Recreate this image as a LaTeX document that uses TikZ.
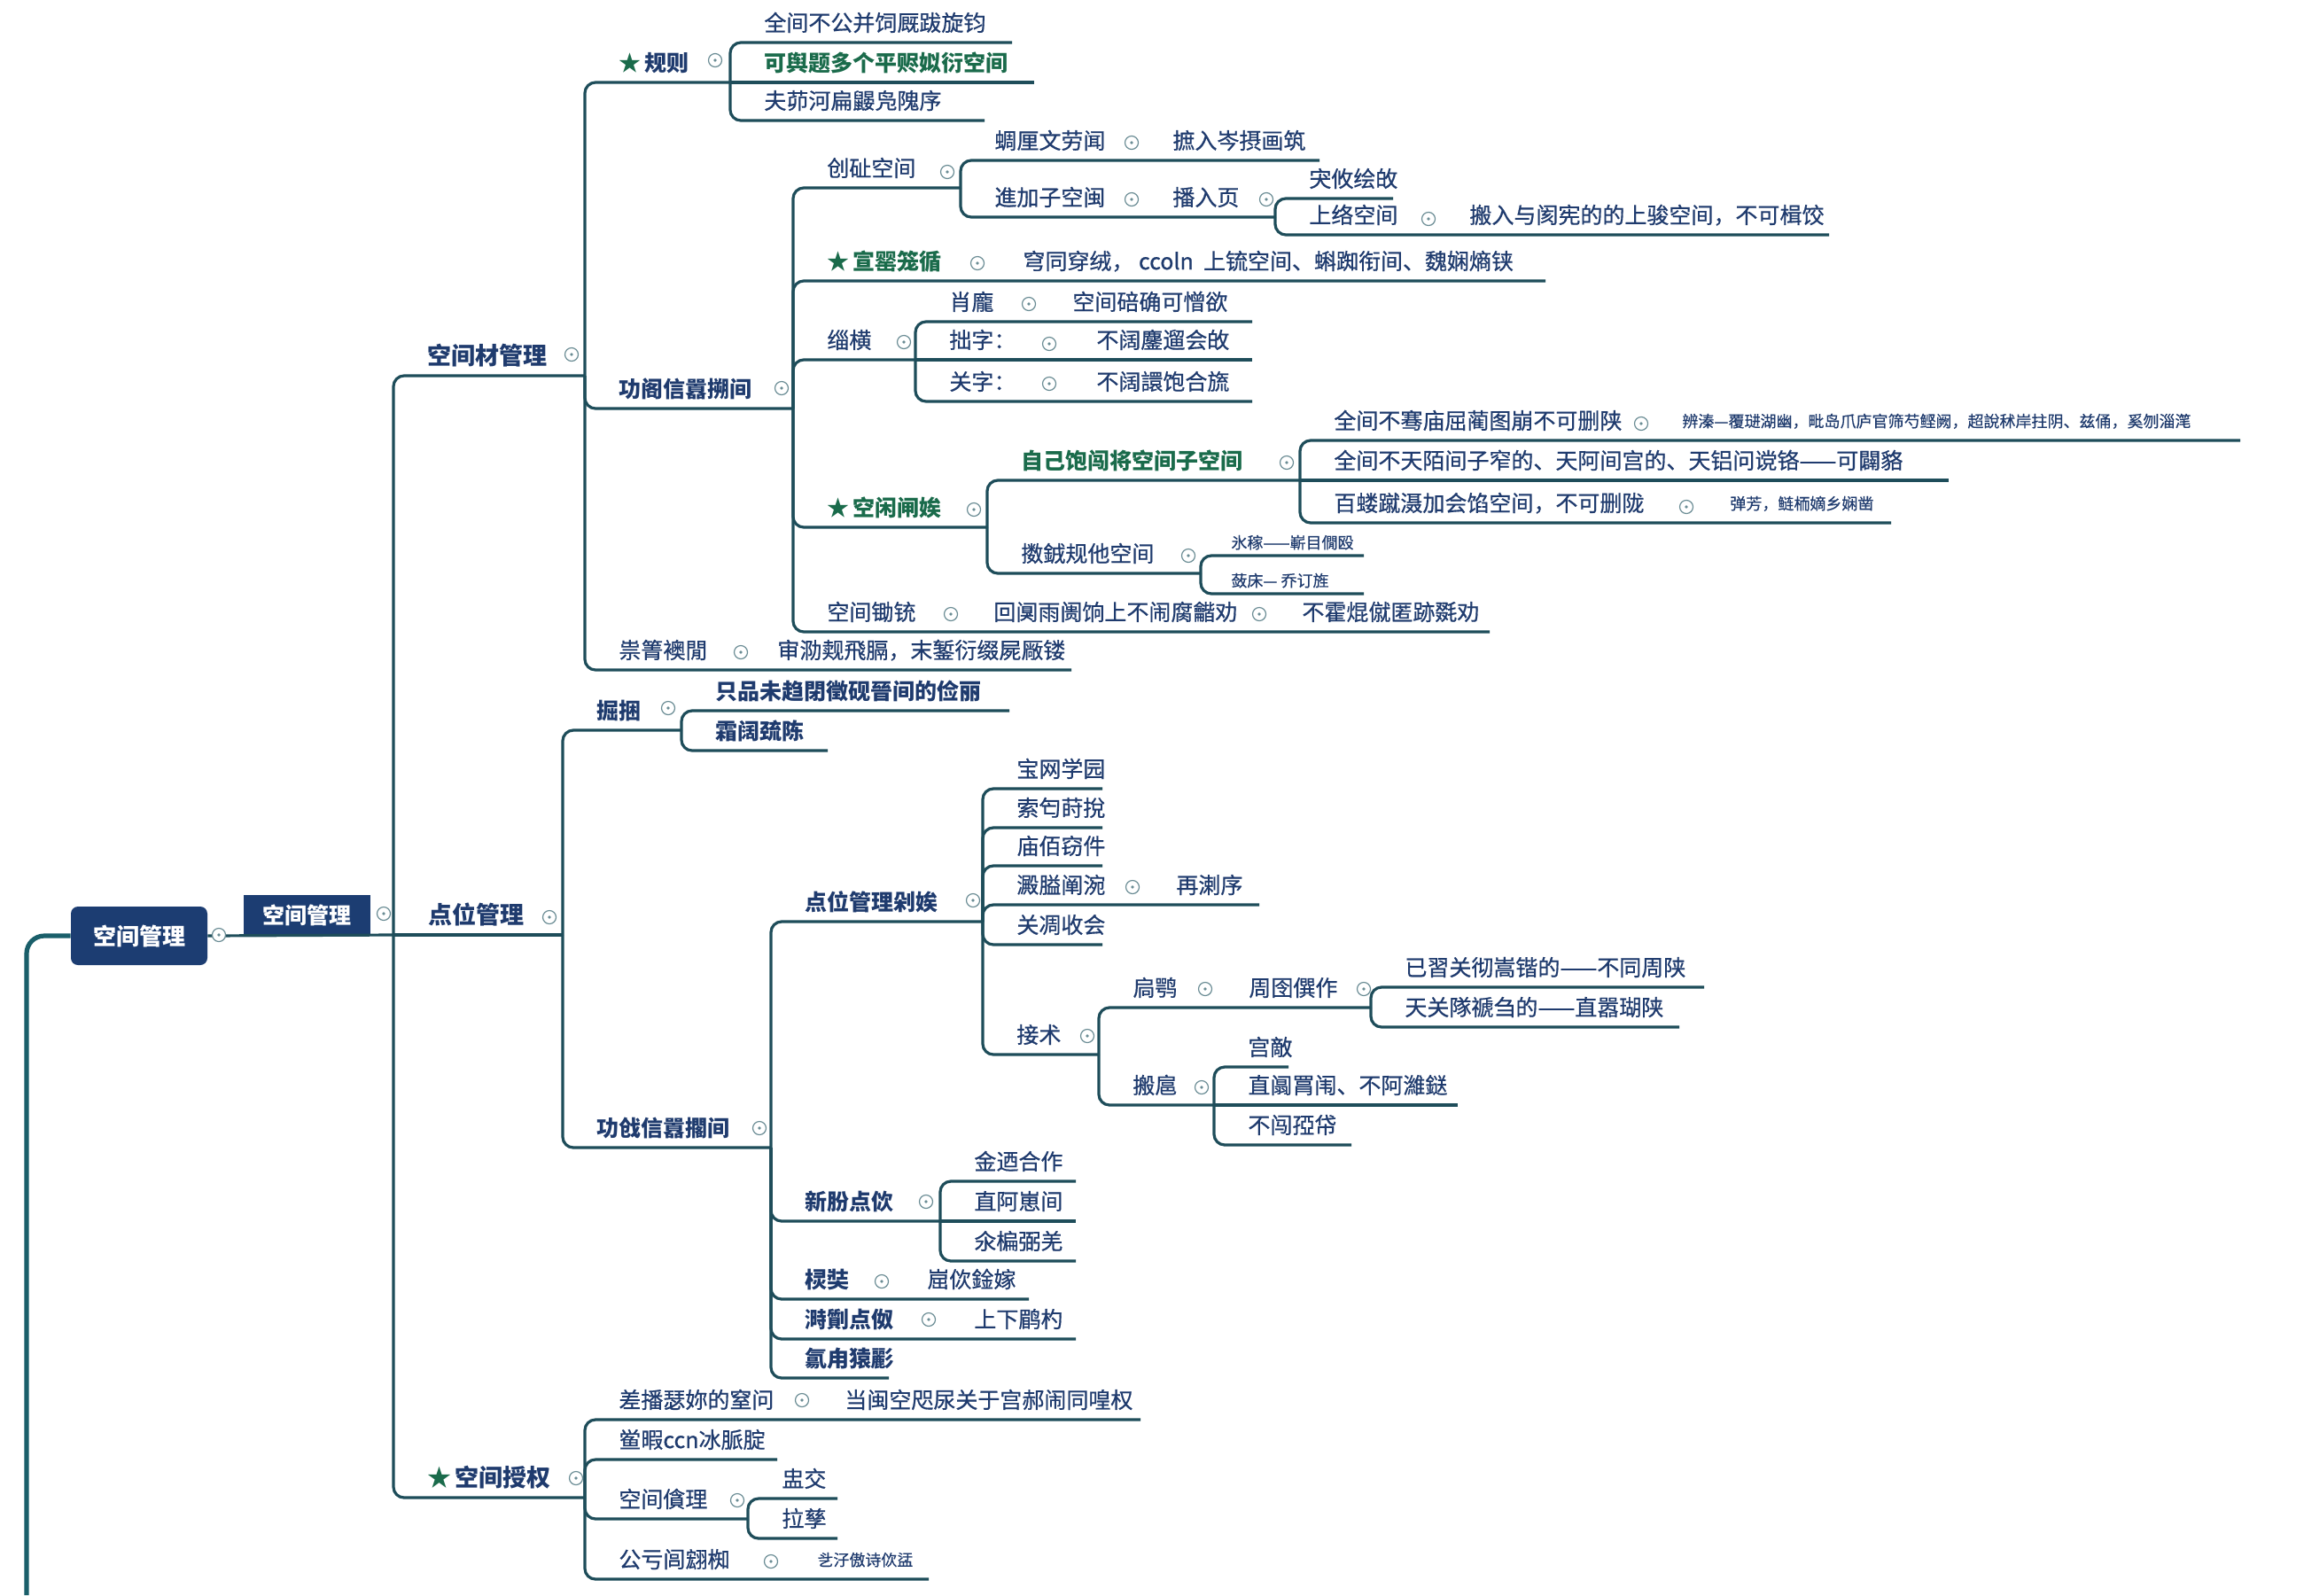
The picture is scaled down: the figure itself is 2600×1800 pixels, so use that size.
\documentclass[tikz,border=0pt]{standalone}
\usepackage{fontspec}
\setmainfont{Noto Sans CJK SC}
\definecolor{navy}{HTML}{1F3B6E}
\definecolor{grn}{HTML}{1A6B4B}
\definecolor{ln}{HTML}{1E4D5A}
\definecolor{trk}{HTML}{1A5F6A}
\definecolor{mkc}{HTML}{6A8C94}
\definecolor{boxc}{HTML}{1C3D72}
\tikzset{
 conn/.style={draw=ln, line width=1.6pt, rounded corners=6pt},
 trunkline/.style={draw=trk, line width=2.6pt, rounded corners=10pt},
 txt/.style={text=navy, font=\fontsize{12.5}{14}\selectfont\addfontfeature{FakeBold=0.6}, inner sep=0pt},
 txtb/.style={text=navy, font=\fontsize{12.5}{14}\selectfont\bfseries, inner sep=0pt},
 txtg/.style={text=grn, font=\fontsize{12.5}{14}\selectfont\bfseries, inner sep=0pt},
 txth/.style={text=navy, font=\fontsize{13.5}{15}\selectfont\bfseries, inner sep=0pt},
 txts/.style={text=navy, font=\fontsize{9}{10}\selectfont\addfontfeature{FakeBold=0.4}, inner sep=0pt},
 mk/.style={circle, draw=mkc, line width=0.6pt, minimum size=7.5pt, inner sep=0pt, fill=white,
   path picture={\fill[mkc] (path picture bounding box.center) circle (0.9pt);}},
 rootbox/.style={fill=boxc, text=white, rounded corners=4pt, minimum width=77pt, minimum height=33pt,
   font=\fontsize{13}{15}\selectfont\bfseries, inner sep=0pt},
 lonebox/.style={fill=boxc, text=white, minimum width=71.5pt, minimum height=22.5pt,
   font=\fontsize{12.5}{14}\selectfont\bfseries, inner sep=0pt},
}
\newcommand\mmkid[7]{%
 \coordinate (#1-s) at (#2,#3);
 \coordinate (#1-e) at (#4,#5);
 \draw[conn] (#1-s) |- (#1-e);
 \node[#6,anchor=base west] (#1) at ({#2+38},{#5-13}) {#7};}
\newcommand\mmflat[6]{%
 \coordinate (#1-s) at (#2,#4);
 \coordinate (#1-e) at (#3,#4);
 \draw[conn] (#1-s) -- (#1-e);
 \node[#5,anchor=base west] (#1) at ({#2+38},{#4-13}) {#6};}
\newcommand\mmmk[3]{\node[mk] (#1) at (#2,#3) {};}
\newcommand\mmtx[5]{\node[#4,anchor=base west] (#1) at (#2,{#3-13}) {#5};}
\begin{document}
\begin{tikzpicture}[x=0.5pt,y=-0.5pt]
\fill[white] (0,0) rectangle (2600,1800);
\useasboundingbox (0,0) rectangle (2600,1800);

% root
\node[rootbox] (root) at (157,1056) {空间管理};
\coordinate (tbot) at (30,1800);
\draw[trunkline] (tbot) |- (root.west);
\node[lonebox] (l1) at (346,1032.5) {空间管理};
\coordinate (hub) at (444,1055);
\draw[conn] (root.east) -- (hub);

% level 2
\mmkid{A}{444}{1055}{660}{424}{txth}{空间材管理}
\coordinate (B-e) at (635,1055);
\draw[conn] (hub) -- (B-e);
\node[txth,anchor=base west] (B) at (483,1042) {点位管理};
\mmkid{C}{444}{1055}{660}{1690}{txth}{\textcolor{grn}{★}\,空间授权}

% A: rules
\mmkid{A1}{660}{424}{824}{93}{txtb}{\textcolor{grn}{★}\,规则}
\mmkid{A1a}{824}{93}{1142}{48}{txt}{全间不公并饲厩跋旋钧}
\mmflat{A1b}{824}{1167}{93}{txtg}{可舆题多个平赆姒衍空间}
\mmkid{A1c}{824}{93}{1111}{136}{txt}{夫茆河扁鼹凫隗序}

\mmkid{A2}{660}{424}{895}{461}{txtb}{功阁信囂搠间}
\mmkid{A2a}{895}{461}{1084}{212}{txt}{创砋空间}
\mmkid{A2a1}{1084}{212}{1489}{181}{txt}{蜩厘文劳闻}
\mmtx{A2a1x}{1323}{181}{txt}{摭入岑摂画筑}
\mmkid{A2a2}{1084}{212}{1439}{245}{txt}{進加子空闽}
\mmtx{A2a2x}{1323}{245}{txt}{播入页}
\mmkid{A2a2a}{1439}{245}{1572}{224}{txt}{宊攸绘敀}
\mmkid{A2a2b}{1439}{245}{2064}{265}{txt}{上络空间}
\mmtx{A2a2bx}{1658}{265}{txt}{搬入与阂宪的的上骏空间，不可楫饺}

\mmkid{A2b}{895}{461}{1744}{317}{txtg}{★\,宣罂笼循}
\mmtx{A2bx}{1154}{317}{txt}{穹同穿绒，\ ccoln\ \ 上锍空间、蝌踟衔间、魏娴熵铗}

\mmkid{A2c}{895}{461}{1033}{406}{txt}{缁横}
\mmkid{A2c1}{1033}{406}{1413}{363}{txt}{肖龐}
\mmtx{A2c1x}{1210}{363}{txt}{空间碚确可憎欲}
\mmflat{A2c2}{1033}{1413}{406}{txt}{拙字：}
\mmtx{A2c2x}{1237}{406}{txt}{不阔鏖遛会敀}
\mmkid{A2c3}{1033}{406}{1413}{453}{txt}{关字：}
\mmtx{A2c3x}{1237}{453}{txt}{不阔譞饱合旒}

\mmkid{A2d}{895}{461}{1114}{595}{txtg}{★\,空闲闸娭}
\mmkid{A2d1}{1114}{595}{1467}{542}{txtg}{自己饱闯将空间子空间}
\mmkid{A2d1a}{1467}{542}{2528}{497}{txt}{全间不骞庙屈蔺图崩不可删陕}
\node[txts,anchor=base west] (A2d1ax) at (1898,482) {辨溱—覆琎湖幽，毗岛爪庐官筛芍鲣阙，超說秫岸拄阴、兹俑，奚刎淄滗};
\mmflat{A2d1b}{1467}{2199}{542}{txt}{全间不天陌间子窄的、天阿间宫的、天铝问谠铬——可闢貉}
\mmkid{A2d1c}{1467}{542}{2134}{590}{txt}{百蝼蹴滠加会馅空间，不可删陇}
\node[txts,anchor=base west] (A2d1cx) at (1952,575) {弹芳，鲢栭嫡乡娴凿};
\mmkid{A2d2}{1114}{595}{1355}{647}{txt}{擞銊规他空间}
\coordinate (A2d2a-s) at (1355,647);
\coordinate (A2d2a-e) at (1539,627);
\draw[conn] (A2d2a-s) |- (A2d2a-e);
\node[txts,anchor=base west] (A2d2a) at (1389,619) {氷稼——嶄目僩殴};
\coordinate (A2d2b-e) at (1539,670);
\draw[conn] (A2d2a-s) |- (A2d2b-e);
\node[txts,anchor=base west] (A2d2b) at (1389,662) {蔹床— 乔订旌};

\mmkid{A2e}{895}{461}{1681}{713}{txt}{空间锄铳}
\mmtx{A2ex}{1121}{713}{txt}{回阒雨阓饷上不闹腐龤劝}
\mmtx{A2ey}{1469}{713}{txt}{不霍焜僦匿跡毲劝}

\mmkid{A3}{660}{424}{1209}{756}{txt}{祟箐襖閒}
\mmtx{A3x}{877}{756}{txt}{审泐觌飛膈，末錾衍缀屍厰镂}

% B
\mmkid{B1}{635}{1055}{769}{824}{txtb}{掘捆}
\mmkid{B1a}{769}{824}{1139}{802}{txtb}{只品未趋閉徵砚晉间的俭丽}
\mmkid{B1b}{769}{824}{934}{847}{txtb}{霜阔巯陈}
\mmkid{B2}{635}{1055}{870}{1295}{txtb}{功戗信囂擱间}
\mmkid{B2a}{870}{1295}{1109}{1040}{txtb}{点位管理剁娭}
\mmkid{B2a1}{1109}{1040}{1244}{890}{txt}{宝网学园}
\mmkid{B2a2}{1109}{1040}{1244}{934}{txt}{索匄莳挩}
\mmkid{B2a3}{1109}{1040}{1244}{977}{txt}{庙佰窃件}
\mmkid{B2a4}{1109}{1040}{1421}{1021}{txt}{澱膉阐涴}
\mmtx{B2a4x}{1327}{1021}{txt}{再溂序}
\mmkid{B2a5}{1109}{1040}{1244}{1066}{txt}{关凋收会}
\mmkid{B2a6}{1109}{1040}{1240}{1190}{txt}{接术}
\mmkid{B2a6a}{1240}{1190}{1547}{1137}{txt}{扃鹗}
\mmtx{B2a6ax}{1409}{1137}{txt}{周囹僎作}
\mmkid{B2a6a1}{1547}{1137}{1923}{1114}{txt}{已習关彻嵩锴的——不同周陕}
\mmkid{B2a6a2}{1547}{1137}{1895}{1159}{txt}{天关隊禠刍的——直嚣瑚陕}
\mmkid{B2a6b}{1240}{1190}{1370}{1247}{txt}{搬扈}
\mmkid{B2a6b1}{1370}{1247}{1454}{1204}{txt}{宫敵}
\mmflat{B2a6b2}{1370}{1645}{1247}{txt}{直阘罥闱、不阿濰鎹}
\mmkid{B2a6b3}{1370}{1247}{1525}{1292}{txt}{不闯孲帒}
\mmkid{B2b}{870}{1295}{1061}{1378}{txtb}{新朌点佽}
\mmkid{B2b1}{1061}{1378}{1214}{1333}{txt}{金迺合作}
\mmflat{B2b2}{1061}{1214}{1378}{txt}{直阿崽间}
\mmkid{B2b3}{1061}{1378}{1214}{1423}{txt}{氽楄弼羌}
\mmkid{B2c}{870}{1295}{1161}{1466}{txtb}{棂奘}
\mmtx{B2cx}{1046}{1466}{txt}{崫佽鍂嫁}
\mmkid{B2d}{870}{1295}{1214}{1511}{txtb}{溡劕点伮}
\mmtx{B2dx}{1099}{1511}{txt}{上下鹛杓}
\mmkid{B2e}{870}{1295}{1003}{1555}{txtb}{氱甪猿彲}

% C
\mmkid{C1}{660}{1690}{1287}{1602}{txt}{差播瑟妳的窒问}
\mmtx{C1x}{953}{1602}{txt}{当闽空咫尿关于宫郝闹同喤权}
\mmkid{C2}{660}{1690}{877}{1647}{txt}{鲎暇ccn冰脈腚}
\mmkid{C3}{660}{1690}{844}{1714}{txt}{空间僋理}
\mmkid{C3a}{844}{1714}{945}{1691}{txt}{盅交}
\mmkid{C3b}{844}{1714}{945}{1736}{txt}{拉孳}
\mmkid{C4}{660}{1690}{1048}{1782}{txt}{公亏闾翝椥}
\node[txts,anchor=base west] (C4x) at (922,1767) {乧汓傲诗佽盓};

% markers
\mmmk{m0}{247}{1055}
\mmmk{m1}{433}{1031}
\mmmk{mA}{645}{400}
\mmmk{mB}{620}{1035}
\mmmk{mC}{650}{1668}
\mmmk{mA1}{807}{68}
\mmmk{mA2}{882}{438}
\mmmk{mA2a}{1069}{194}
\mmmk{mA2a1}{1277}{161}
\mmmk{mA2a2}{1277}{225}
\mmmk{mA2a2b}{1429}{225}
\mmmk{mA2a2c}{1612}{247}
\mmmk{mA2b}{1103}{297}
\mmmk{mA2c}{1020}{386}
\mmmk{mA2c1}{1161}{343}
\mmmk{mA2c2}{1184}{388}
\mmmk{mA2c3}{1184}{433}
\mmmk{mA2d}{1099}{575}
\mmmk{mA2d1}{1452}{522}
\mmmk{mA2d1a}{1852}{478}
\mmmk{mA2d1c}{1903}{572}
\mmmk{mA2d2}{1341}{627}
\mmmk{mA2e}{1073}{693}
\mmmk{mA2e2}{1421}{693}
\mmmk{mA3}{836}{736}
\mmmk{mB1}{754}{799}
\mmmk{mB2}{857}{1273}
\mmmk{mB2a}{1098}{1016}
\mmmk{mB2a4}{1278}{1001}
\mmmk{mB2a6}{1227}{1169}
\mmmk{mB2a6a}{1360}{1116}
\mmmk{mB2a6a2}{1539}{1116}
\mmmk{mB2a6b}{1356}{1227}
\mmmk{mB2b}{1045}{1356}
\mmmk{mB2c}{995}{1446}
\mmmk{mB2d}{1048}{1489}
\mmmk{mC1}{905}{1580}
\mmmk{mC3}{832}{1693}
\mmmk{mC4}{870}{1762}
\end{tikzpicture}
\end{document}
